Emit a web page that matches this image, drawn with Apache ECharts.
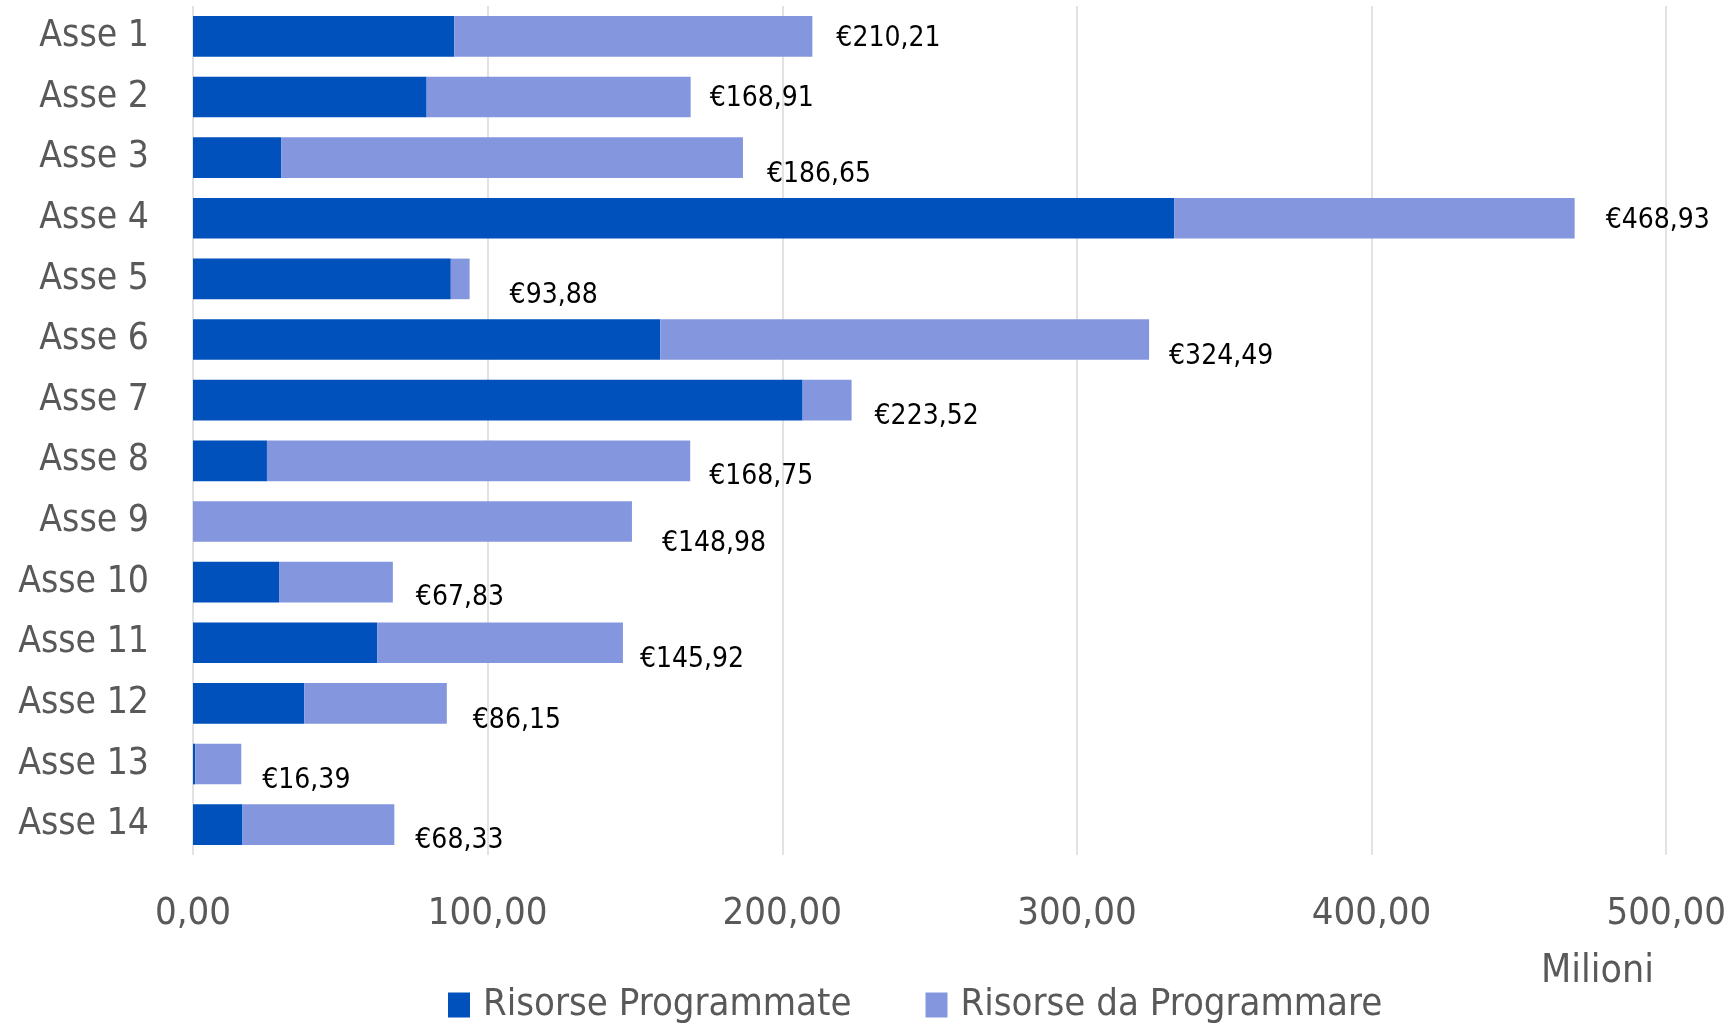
<!DOCTYPE html>
<html>
<head>
<meta charset="utf-8">
<title>Risorse per Asse</title>
<script src="https://cdn.jsdelivr.net/npm/echarts@6/dist/echarts.min.js"></script>
<style>
  html, body { margin: 0; padding: 0; background: #fff; }
  #chart { width: 1729px; height: 1024px; }
</style>
</head>
<body>
<div id="chart"></div>
<script>
// categorie (assi)
const assi = ['Asse 1', 'Asse 2', 'Asse 3', 'Asse 4', 'Asse 5', 'Asse 6', 'Asse 7',
  'Asse 8', 'Asse 9', 'Asse 10', 'Asse 11', 'Asse 12', 'Asse 13', 'Asse 14']

// milioni di euro
const programmate = [88.7, 79.3, 29.9, 333.0, 87.5, 158.6, 206.9, 25.1, 0, 29.2, 62.5, 37.8, 0.8, 16.8]
const daProgrammare = [121.51, 89.61, 156.75, 135.93, 6.38, 165.89, 16.62, 143.65, 148.98, 38.63, 83.42, 48.35, 15.59, 51.53]

// totali mostrati nelle etichette
const totali = [210.21, 168.91, 186.65, 468.93, 93.88, 324.49, 223.52, 168.75, 148.98, 67.83, 145.92, 86.15, 16.39, 68.33]

// tick asse x
const xTicks = [0, 100, 200, 300, 400, 500]

// spostamento manuale delle etichette (come nel foglio originale)
const labelShift = [[24, 2], [19, 2], [24, 17], [31, 2], [40, 17], [20, 17], [23, 17],
  [19, 16], [30, 22], [23, 16], [17, 17], [26, 17], [21, 17], [21, 16]]

const FONT = '"Liberation Sans Narrow", "DejaVu Sans Condensed", sans-serif'
const fmt = v => v.toFixed(2).replace('.', ',')

const chart = echarts.init(document.getElementById('chart'))

chart.setOption({
  animation: false,
  textStyle: { fontFamily: FONT },
  grid: { left: 193, right: 56, top: 6, bottom: 169, containLabel: false },
  legend: {
    top: 981,
    left: 443,
    itemWidth: 22,
    itemHeight: 25,
    itemGap: 74,
    icon: 'rect',
    textStyle: { fontSize: 38, color: '#595959', fontFamily: FONT, padding: [0, 0, 0, 8] },
    data: ['Risorse Programmate', 'Risorse da Programmare'],
  },
  xAxis: {
    type: 'value',
    min: xTicks[0],
    max: xTicks[xTicks.length - 1],
    interval: 100,
    axisLine: { show: false },
    axisTick: { show: false },
    splitLine: { lineStyle: { color: '#d9d9d9', width: 1.5 } },
    axisLabel: {
      margin: 40,
      fontSize: 38,
      color: '#595959',
      formatter: v => fmt(v),
    },
  },
  yAxis: {
    type: 'category',
    inverse: true,
    data: assi,
    axisLine: { show: false },
    axisTick: { show: false },
    axisLabel: { margin: 44, fontSize: 37, color: '#595959' },
  },
  graphic: [{
    type: 'text',
    left: 1541,
    top: 952,
    style: { text: 'Milioni', fontSize: 39, fill: '#595959', fontFamily: FONT },
  }],
  series: [
    {
      name: 'Risorse Programmate',
      type: 'bar',
      stack: 'tot',
      barCategoryGap: '33%',
      itemStyle: { color: '#0051bb' },
      data: programmate,
    },
    {
      name: 'Risorse da Programmare',
      type: 'bar',
      stack: 'tot',
      itemStyle: { color: '#8497de' },
      data: daProgrammare.map((v, i) => ({
        value: v,
        label: { offset: labelShift[i] },
      })),
      label: {
        show: true,
        position: 'right',
        distance: 0,
        fontSize: 28,
        color: '#000',
        fontFamily: FONT,
        formatter: p => '€' + fmt(totali[p.dataIndex]),
      },
    },
  ],
})
</script>
</body>
</html>
